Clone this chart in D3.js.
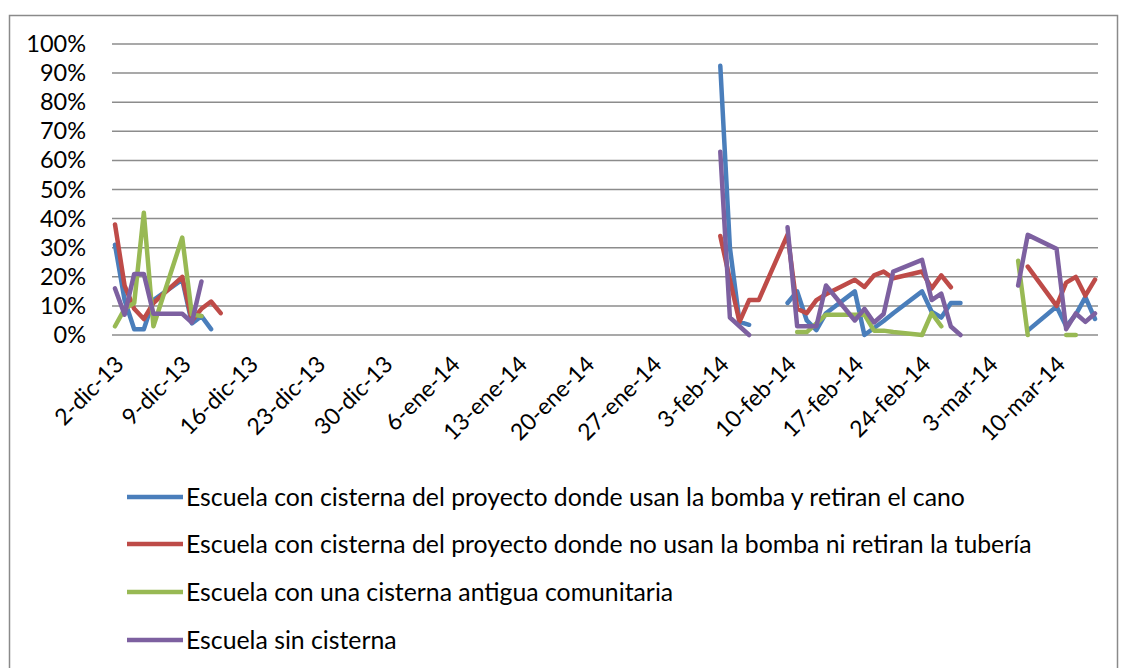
<!DOCTYPE html>
<html>
<head>
<meta charset="utf-8">
<script src="https://cdn.jsdelivr.net/npm/d3@7"></script>
<style>
  body { margin: 0; background: #ffffff; }
  text { font-family: Lato, "Open Sans", sans-serif; fill: #000; }
</style>
</head>
<body>
<svg id="chart" width="1132" height="668"></svg>
<script>
// School-day readings (empty row = no measurement, breaks the line)
const dates = [
  "2-dic-13","3-dic-13","4-dic-13","5-dic-13","6-dic-13",
  "9-dic-13","10-dic-13","11-dic-13","12-dic-13","13-dic-13",
  "16-dic-13",
  "3-feb-14","4-feb-14","5-feb-14","6-feb-14","7-feb-14",
  "10-feb-14","11-feb-14","12-feb-14","13-feb-14","14-feb-14",
  "17-feb-14","18-feb-14","19-feb-14","20-feb-14","21-feb-14",
  "24-feb-14","25-feb-14","26-feb-14","27-feb-14","28-feb-14",
  "3-mar-14","4-mar-14","5-mar-14","6-mar-14","7-mar-14",
  "10-mar-14","11-mar-14","12-mar-14","13-mar-14","14-mar-14"
];

const seriesNames = [
  "Escuela con cisterna del proyecto donde usan la bomba y retiran el cano",
  "Escuela con cisterna del proyecto donde no usan la bomba ni retiran la tubería",
  "Escuela con una cisterna antigua comunitaria",
  "Escuela sin cisterna"
];

// Percent values, one per date row
const bombaCano = [
  31, 12, 2, 2, 12,
  19, 4, 6.5, 2, null,
  null,
  92.5, 30, 4.5, 3.5, null,
  11, 15, 5, 1.7, 7.5,
  15, 0, 2.4, 4.8, 7.5,
  15, 8, 6, 11, 11,
  null, null, null, null, 1.5,
  9.8, 3, 7, 13, 5.5
];
const sinBomba = [
  38, 17, 9, 5.5, 11,
  20, 5, 9, 11.5, 7.5,
  null,
  34, 19, 4.5, 12, 12,
  34.5, 9, 7.5, 12, 14,
  19, 16.5, 20.5, 21.8, 19.5,
  21.8, 16, 20.5, 16.4, null,
  null, null, null, null, 23.5,
  10, 18, 20, 13.5, 19
];
const antigua = [
  3, 9, 11, 42, 3,
  33.5, 7, 6.5, null, null,
  null,
  null, null, null, null, null,
  null, 1, 1, 4, 7,
  7, 7, 1.5, 1.5, 1,
  0, 7.5, 3, null, null,
  null, null, null, 25.5, 0,
  null, 0, 0, null, null
];
const sinCisterna = [
  16, 7, 21, 21, 7.3,
  7.3, 4.3, 18.4, null, null,
  null,
  63, 6, 3, 0, null,
  37, 3, 3, 3, 17,
  5, 9, 4.3, 7.2, 21.8,
  25.8, 12, 14.2, 2.9, 0,
  null, null, null, 17, 34.4,
  29.6, 2, 7.4, 4.5, 7.4
];

const tickLabels = [
  "2-dic-13","9-dic-13","16-dic-13","23-dic-13","30-dic-13",
  "6-ene-14","13-ene-14","20-ene-14","27-ene-14","3-feb-14",
  "10-feb-14","17-feb-14","24-feb-14","3-mar-14","10-mar-14"
];
const yTicks = [0, 10, 20, 30, 40, 50, 60, 70, 80, 90, 100];

const colors = ["#4A7EBB", "#BE4B48", "#98B954", "#7D60A0"];

const months = { ene: 0, feb: 1, mar: 2, abr: 3, may: 4, jun: 5, jul: 6, ago: 7, sep: 8, oct: 9, nov: 10, dic: 11 };
function parseEs(s) {
  const [d, m, y] = s.split("-");
  return new Date(2000 + +y, months[m], +d);
}

const svg = d3.select("#chart");

// outer chart frame
svg.append("rect")
  .attr("x", 9.5).attr("y", 15.5)
  .attr("width", 1108).attr("height", 700)
  .attr("fill", "none").attr("stroke", "#8a8a8a").attr("stroke-width", 1.5);

const rows = dates.map(parseEs);
const x = d3.scaleTime()
  .domain([rows[0], rows[rows.length - 1]])
  .range([115, 1095]);
const y = d3.scaleLinear().domain([0, 100]).range([335, 44]);

const plotLeft = 112, plotRight = 1098;

// horizontal gridlines
svg.append("g").selectAll("line").data(yTicks).join("line")
  .attr("x1", plotLeft).attr("x2", plotRight)
  .attr("y1", d => y(d)).attr("y2", d => y(d))
  .attr("stroke", "#8c8c8c").attr("stroke-width", 1.5);

// y labels
const yAxis = d3.axisLeft(y).tickValues(yTicks).tickFormat(d => d + "%").tickSize(0).tickPadding(0);
const gy = svg.append("g").attr("transform", "translate(86,0)").call(yAxis);
gy.select(".domain").remove();
gy.selectAll("text").style("font-size", "23.5px").attr("fill", "#000");

// x labels, rotated
const xAxis = d3.axisBottom(x).tickValues(tickLabels.map(parseEs))
  .tickFormat((d, i) => tickLabels[i]).tickSize(0).tickPadding(0);
const gx = svg.append("g").attr("transform", "translate(4,360)").call(xAxis);
gx.select(".domain").remove();
gx.selectAll("text")
  .style("font-size", "23px")
  .attr("fill", "#000")
  .attr("text-anchor", "end")
  .attr("dy", "0.35em")
  .attr("y", 0)
  .attr("transform", "rotate(-45)");

// series lines
const allSeries = [bombaCano, sinBomba, antigua, sinCisterna];
const line = d3.line()
  .defined(d => d.v != null)
  .x(d => x(d.t))
  .y(d => y(d.v));

allSeries.forEach((vals, i) => {
  const pts = vals.map((v, k) => ({ t: rows[k], v }));
  svg.append("path")
    .datum(pts)
    .attr("d", line)
    .attr("fill", "none")
    .attr("stroke", colors[i])
    .attr("stroke-width", 4.5)
    .attr("stroke-linejoin", "round")
    .attr("stroke-linecap", "round");
});

// legend
const legendY = [497, 544, 592, 640];
const lg = svg.append("g");
seriesNames.forEach((name, i) => {
  lg.append("line")
    .attr("x1", 127).attr("x2", 183)
    .attr("y1", legendY[i]).attr("y2", legendY[i])
    .attr("stroke", colors[i]).attr("stroke-width", 4.5);
  lg.append("text")
    .attr("x", 186).attr("y", legendY[i]).attr("dy", "0.35em")
    .style("font-size", "24.8px")
    .text(name);
});
</script>
</body>
</html>
